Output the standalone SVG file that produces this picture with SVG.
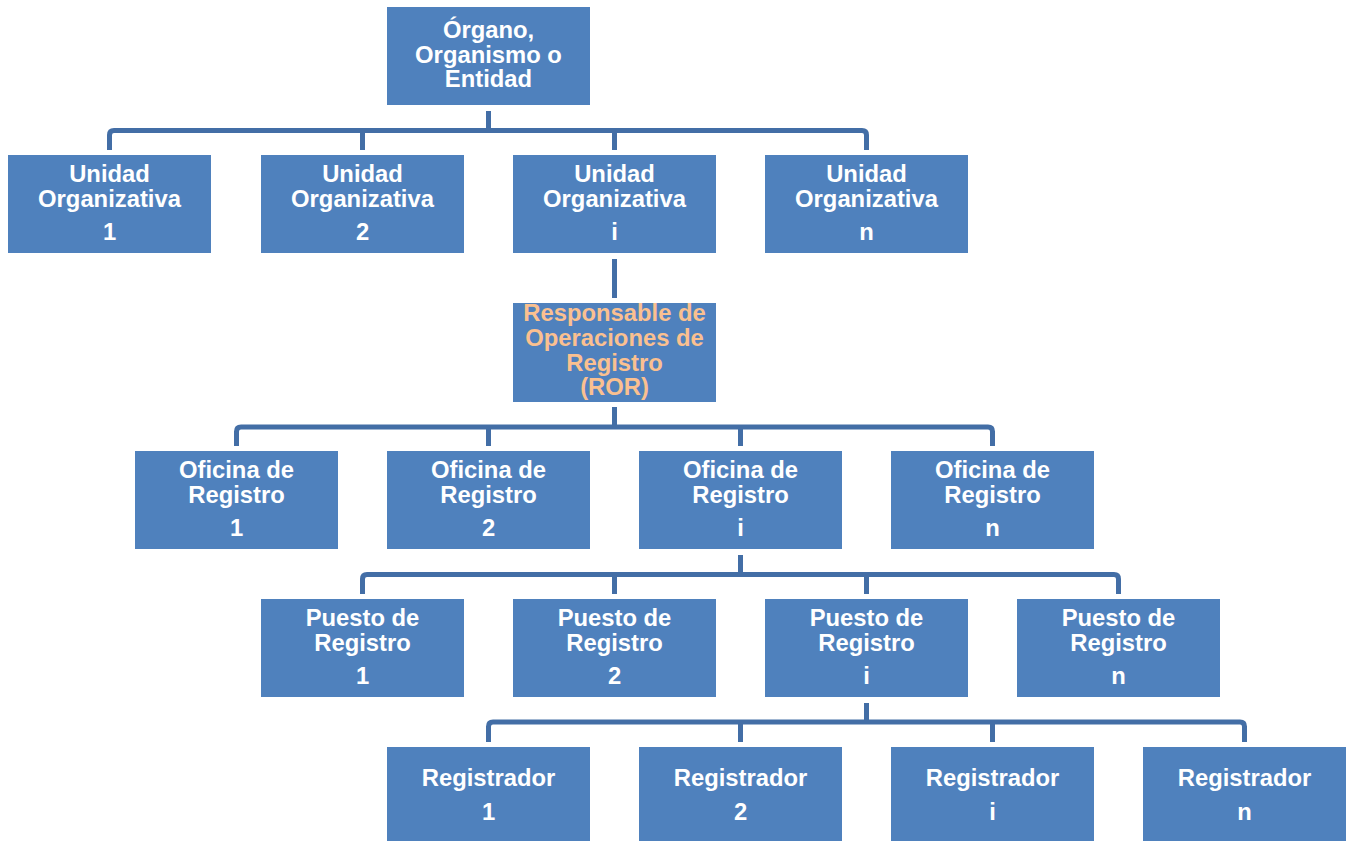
<svg xmlns="http://www.w3.org/2000/svg" width="1355" height="841" viewBox="0 0 1355 841">
<style>
.box{fill:#4F81BD;}
.t{font-family:"Liberation Sans",Arial,sans-serif;font-weight:bold;font-size:23.8px;fill:#FFFFFF;text-anchor:middle;}
.ror{fill:#FAC090;}
.c{fill:none;stroke:#436EA6;stroke-width:5;stroke-linejoin:round;}
</style>
<rect width="1355" height="841" fill="#FFFFFF"/>
<g id="connectors">
<path class="c" d="M488.5 111 V130.5"/>
<path class="c" d="M109.5 150 V135 Q109.5 130.5 114 130.5 H862 Q866.5 130.5 866.5 135 V150 M362.5 130.5 V150 M614.5 130.5 V150"/>
<path class="c" d="M614.5 259 V298"/>
<path class="c" d="M614.5 407 V427"/>
<path class="c" d="M236.5 446 V431.5 Q236.5 427 241 427 H988 Q992.5 427 992.5 431.5 V446 M488.5 427 V446 M740.5 427 V446"/>
<path class="c" d="M740.5 555 V574.5"/>
<path class="c" d="M362.5 594 V579 Q362.5 574.5 367 574.5 H1114 Q1118.5 574.5 1118.5 579 V594 M614.5 574.5 V594 M866.5 574.5 V594"/>
<path class="c" d="M866.5 703 V722"/>
<path class="c" d="M488.5 742 V726.5 Q488.5 722 493 722 H1240 Q1244.5 722 1244.5 726.5 V742 M740.5 722 V742 M992.5 722 V742"/>
</g>
<g id="organo"><rect class="box" x="387" y="7" width="203" height="98"/><text class="t" x="488.5" y="38">Órgano,</text><text class="t" x="488.5" y="62.5">Organismo o</text><text class="t" x="488.5" y="87">Entidad</text></g>
<g id="uo1"><rect class="box" x="8" y="155" width="203" height="98"/><text class="t" x="109.5" y="182">Unidad</text><text class="t" x="109.5" y="206.5">Organizativa</text><text class="t" x="109.5" y="240">1</text></g>
<g id="uo2"><rect class="box" x="261" y="155" width="203" height="98"/><text class="t" x="362.5" y="182">Unidad</text><text class="t" x="362.5" y="206.5">Organizativa</text><text class="t" x="362.5" y="240">2</text></g>
<g id="uoi"><rect class="box" x="513" y="155" width="203" height="98"/><text class="t" x="614.5" y="182">Unidad</text><text class="t" x="614.5" y="206.5">Organizativa</text><text class="t" x="614.5" y="240">i</text></g>
<g id="uon"><rect class="box" x="765" y="155" width="203" height="98"/><text class="t" x="866.5" y="182">Unidad</text><text class="t" x="866.5" y="206.5">Organizativa</text><text class="t" x="866.5" y="240">n</text></g>
<g id="ror"><rect class="box" x="513" y="303" width="203" height="99"/><text class="t ror" x="614.5" y="321">Responsable de</text><text class="t ror" x="614.5" y="346">Operaciones de</text><text class="t ror" x="614.5" y="370.5">Registro</text><text class="t ror" x="614.5" y="395">(ROR)</text></g>
<g id="of1"><rect class="box" x="135" y="451" width="203" height="98"/><text class="t" x="236.5" y="478">Oficina de</text><text class="t" x="236.5" y="502.5">Registro</text><text class="t" x="236.5" y="536">1</text></g>
<g id="of2"><rect class="box" x="387" y="451" width="203" height="98"/><text class="t" x="488.5" y="478">Oficina de</text><text class="t" x="488.5" y="502.5">Registro</text><text class="t" x="488.5" y="536">2</text></g>
<g id="ofi"><rect class="box" x="639" y="451" width="203" height="98"/><text class="t" x="740.5" y="478">Oficina de</text><text class="t" x="740.5" y="502.5">Registro</text><text class="t" x="740.5" y="536">i</text></g>
<g id="ofn"><rect class="box" x="891" y="451" width="203" height="98"/><text class="t" x="992.5" y="478">Oficina de</text><text class="t" x="992.5" y="502.5">Registro</text><text class="t" x="992.5" y="536">n</text></g>
<g id="pr1"><rect class="box" x="261" y="599" width="203" height="98"/><text class="t" x="362.5" y="626">Puesto de</text><text class="t" x="362.5" y="650.5">Registro</text><text class="t" x="362.5" y="684">1</text></g>
<g id="pr2"><rect class="box" x="513" y="599" width="203" height="98"/><text class="t" x="614.5" y="626">Puesto de</text><text class="t" x="614.5" y="650.5">Registro</text><text class="t" x="614.5" y="684">2</text></g>
<g id="pri"><rect class="box" x="765" y="599" width="203" height="98"/><text class="t" x="866.5" y="626">Puesto de</text><text class="t" x="866.5" y="650.5">Registro</text><text class="t" x="866.5" y="684">i</text></g>
<g id="prn"><rect class="box" x="1017" y="599" width="203" height="98"/><text class="t" x="1118.5" y="626">Puesto de</text><text class="t" x="1118.5" y="650.5">Registro</text><text class="t" x="1118.5" y="684">n</text></g>
<g id="rg1"><rect class="box" x="387" y="747" width="203" height="98"/><text class="t" x="488.5" y="786">Registrador</text><text class="t" x="488.5" y="820">1</text></g>
<g id="rg2"><rect class="box" x="639" y="747" width="203" height="98"/><text class="t" x="740.5" y="786">Registrador</text><text class="t" x="740.5" y="820">2</text></g>
<g id="rgi"><rect class="box" x="891" y="747" width="203" height="98"/><text class="t" x="992.5" y="786">Registrador</text><text class="t" x="992.5" y="820">i</text></g>
<g id="rgn"><rect class="box" x="1143" y="747" width="203" height="98"/><text class="t" x="1244.5" y="786">Registrador</text><text class="t" x="1244.5" y="820">n</text></g>
</svg>
